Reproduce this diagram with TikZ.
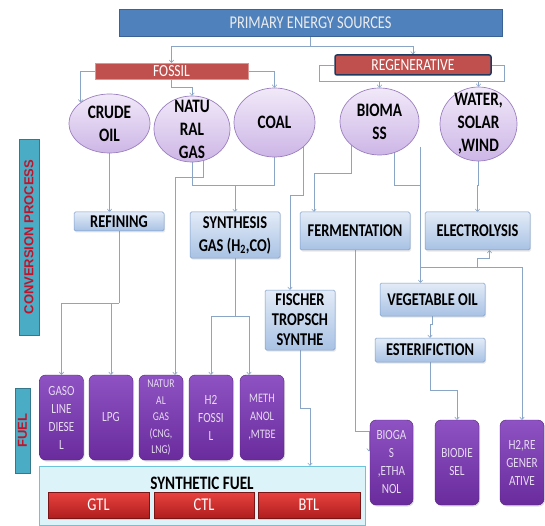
\documentclass[tikz,border=0pt]{standalone}
\usepackage{fontspec}
\setmainfont{Carlito}[FakeStretch=0.8]
\newfontfamily\barfont{Liberation Sans}
\usetikzlibrary{backgrounds,arrows.meta,shapes.geometric,shadows}

\definecolor{wireblue}{HTML}{8AA5C6}
\definecolor{primfill}{HTML}{4F81BD}
\definecolor{primedge}{HTML}{3A6296}
\definecolor{redfill}{HTML}{C0504D}
\definecolor{navyedge}{HTML}{1F3A60}
\definecolor{lilactop}{HTML}{F1E9F9}
\definecolor{lilacbot}{HTML}{CDB6E6}
\definecolor{lilacedge}{HTML}{9A7FBF}
\definecolor{proctop}{HTML}{E3EBF7}
\definecolor{procbot}{HTML}{A8C2E4}
\definecolor{procedge}{HTML}{7A9CCB}
\definecolor{fueltop}{HTML}{8E52C2}
\definecolor{fuelbot}{HTML}{6A2C9C}
\definecolor{fueltext}{HTML}{E6DCF0}
\definecolor{synfill}{HTML}{DDF3FA}
\definecolor{synedge}{HTML}{6CC3DB}
\definecolor{rubytop}{HTML}{E8423F}
\definecolor{rubybot}{HTML}{B01E1E}
\definecolor{tealfill}{HTML}{4BACC6}
\definecolor{barred}{HTML}{C0142B}

\begin{document}
\begin{tikzpicture}[x=1pt,y=-1pt,
    conn/.style={draw=wireblue,line width=.6pt,-{To[length=3pt,width=5pt]}},
    wireline/.style={draw=wireblue,line width=.6pt},
    srcnode/.style={ellipse,draw=lilacedge,line width=.7pt,top color=lilactop,
        bottom color=lilacbot,inner sep=0pt},
    srctext/.style={align=center,font=\fontsize{19}{23}\selectfont\bfseries},
    procbox/.style={rectangle,rounded corners=1.5pt,draw=procedge,line width=.5pt,
        top color=proctop,bottom color=procbot,inner sep=0pt,align=center,
        font=\fontsize{18}{23}\selectfont\bfseries,
        drop shadow={opacity=.2,shadow xshift=1pt,shadow yshift=-1.5pt}},
    fuelbox/.style={rectangle,rounded corners=6pt,top color=fueltop,bottom color=fuelbot,
        draw=fuelbot!80!black,line width=.4pt,minimum width=44pt,minimum height=85pt,
        inner sep=0pt,align=center,text=fueltext,font=\fontsize{14}{18}\selectfont,
        drop shadow={opacity=.25,shadow xshift=1pt,shadow yshift=-1.5pt}},
    redbar/.style={rectangle,top color=rubytop,bottom color=rubybot,draw=rubybot!70!black,
        line width=.4pt,minimum width=101pt,minimum height=26pt,inner sep=0pt,
        text=white,font=\fontsize{18}{18}\selectfont,
        drop shadow={opacity=.25,shadow xshift=1pt,shadow yshift=-1.5pt}},
    sidebar/.style={rectangle,fill=tealfill,draw=tealfill!70!black,line width=.4pt,
        inner sep=0pt,text=barred,font=\barfont\bfseries\fontsize{13}{16}\selectfont}
    ]
    \useasboundingbox (0,0) rectangle (545,526);

    %%top
    \node[rectangle,fill=primfill,draw=primedge,line width=.6pt,minimum width=383pt,
        minimum height=27pt,inner sep=0pt,text=white!92!black,
        font=\fontsize{18}{18}\selectfont] (prim) at (310.5,22.5) {PRIMARY ENERGY SOURCES};
    \node[rectangle,fill=redfill,draw=redfill!60!white,line width=.4pt,minimum width=153pt,
        minimum height=16pt,inner sep=0pt,text=white,
        font=\fontsize{17}{17}\selectfont] (fossil) at (171.5,71) {FOSSIL};
    \node[rectangle,rounded corners=2pt,fill=redfill,draw=navyedge,line width=1.5pt,
        minimum width=156pt,minimum height=20pt,inner sep=0pt,text=white,
        font=\fontsize{17}{17}\selectfont] (regen) at (413,65) {REGENERATIVE};

    %%sources
    \node[srcnode,minimum width=81pt,minimum height=59pt,
        label={[srctext]center:{CRUDE\\OIL}}] (crude) at (109.5,123.5) {};
    \node[srcnode,minimum width=76pt,minimum height=66pt,
        label={[srctext]center:{NATU\\RAL\\GAS}}] (natgas) at (192,129) {};
    \node[srcnode,minimum width=81pt,minimum height=69pt,
        label={[srctext]center:{COAL}}] (coal) at (274.5,122.5) {};
    \node[srcnode,minimum width=79pt,minimum height=67pt,
        label={[srctext]center:{BIOMA\\SS}}] (biomass) at (379.5,121.5) {};
    \node[srcnode,minimum width=77pt,minimum height=74pt,
        label={[srctext]center:{WATER,\\SOLAR\\,WIND}}] (water) at (478.5,124) {};

    %%side bars
    \node[sidebar,rotate=90,minimum width=196pt,minimum height=20pt] (convbar) at (29,237)
        {CONVERSION PROCESS};
    \node[sidebar,rotate=90,minimum width=85pt,minimum height=15pt] (fuelbar) at (22.5,430.5)
        {FUEL};

    %%conversion
    \node[procbox,minimum width=90pt,minimum height=19pt] (refin) at (119,221.5) {REFINING};
    \node[procbox,minimum width=90pt,minimum height=46pt] (syngas) at (235,235)
        {SYNTHESIS\\GAS (H\textsubscript{2},CO)};
    \node[procbox,minimum width=110pt,minimum height=38pt] (ferm) at (355,231) {FERMENTATION};
    \node[procbox,minimum width=105pt,minimum height=38pt] (elec) at (477.5,231) {ELECTROLYSIS};
    \node[procbox,minimum width=70pt,minimum height=60pt,
        font=\fontsize{18}{20}\selectfont\bfseries] (fischer) at (300,320)
        {FISCHER\\TROPSCH\\SYNTHE};
    \node[procbox,minimum width=105pt,minimum height=33pt] (vegoil) at (432.5,299.5) {VEGETABLE OIL};
    \node[procbox,minimum width=110pt,minimum height=24pt] (ester) at (430,350) {ESTERIFICTION};

    %%fuels
    \node[fuelbox] (gaso) at (61.5,417.5) {GASO\\LINE\\DIESE\\L};
    \node[fuelbox] (lpg) at (111,417.5) {LPG};
    \node[fuelbox,font=\fontsize{12}{16.5}\selectfont] (ngfuel) at (161,417.5)
        {NATUR\\AL\\GAS\\(CNG,\\LNG)};
    \node[fuelbox] (h2fos) at (211,417.5) {H2\\FOSSI\\L};
    \node[fuelbox,font=\fontsize{13}{18}\selectfont] (meth) at (262,417.5) {METH\\ANOL\\,MTBE};
    \node[fuelbox,minimum width=43pt] (biogas) at (391.5,462.5) {BIOGA\\S\\,ETHA\\NOL};
    \node[fuelbox] (biodsl) at (457,462.5) {BIODIE\\SEL};
    \node[fuelbox] (h2reg) at (522,462.5) {H2,RE\\GENER\\ATIVE};

    %%synthetic fuel
    \node[rectangle,fill=synfill,draw=synedge,line width=.6pt,minimum width=326pt,
        minimum height=59pt,inner sep=0pt] (synfuel) at (202,495.5) {};
    \node[font=\fontsize{19}{19}\selectfont\bfseries,inner sep=0pt] (synlabel) at (202,483)
        {SYNTHETIC FUEL};
    \node[redbar] (gtl) at (98.5,505) {GTL};
    \node[redbar,minimum width=100pt] (ctl) at (204,505) {CTL};
    \node[redbar,minimum width=102pt] (btl) at (309,505) {BTL};

    \begin{scope}[on background layer]
        %%top links
        \draw[wireline] (prim.south) -- ++(0,10) coordinate (pj);
        \draw[conn] (pj) -| (fossil.north);
        \draw[conn] (pj) -| (regen.north);
        \draw[conn] (fossil.west) -| (crude.north west);
        \draw[conn] (fossil.east) -| (coal.north);
        \draw[conn] (fossil.south) -- ++(0,8) -| (natgas.north);
        \draw[wireline] (regen.west) -- ++(-15,0) |- ++(185,16) |- (regen.east);
        \path (regen.south) ++(0,6) coordinate (rb);
        \draw[conn] (rb -| biomass.north) -- (biomass.north);
        \draw[conn] (rb -| water.north) -- (water.north);

        %%to conversion
        \draw[conn] (crude.south) -- (crude.south |- refin.north);
        \draw[wireline] (natgas.south) -- ++(0,23) coordinate (sj) -| (coal.south);
        \draw[conn] (sj -| syngas.north) -- (syngas.north);
        \draw[conn] (natgas.-70) -- ++(0,17) -| ([xshift=14pt]ngfuel.north);
        \draw[conn] (coal.south east) -- ++(0,48) -| ([xshift=-10pt]fischer.north);
        \draw[conn] (biomass.south west) -- ++(0,28) -| ([xshift=-41pt]ferm.north);
        \draw[conn] (biomass.-65) -- ++(0,32) -| ([xshift=-12pt]vegoil.north);
        \draw[wireline] ([xshift=-12pt]vegoil.north) ++(0,-136) -- ++(0,40);
        \draw[conn] (water.south) -- ++(0,24) -| (elec.north);

        %%to fuels
        \draw[wireline] (refin.south) -- ++(0,72) coordinate (rj);
        \draw[conn] (rj) -| (gaso.north);
        \draw[conn] (rj -| lpg.north) -- (lpg.north);
        \draw[wireline] (syngas.south) -- ++(0,58) coordinate (gj);
        \draw[conn] (gj) -| (h2fos.north);
        \draw[conn] (gj) -| ([xshift=-13pt]meth.north);
        \draw[conn] (fischer.south) -- ++(0,58) -| ([xshift=108pt]synfuel.north);
        \draw[conn] (ferm.south) -- ++(0,181) -| ++(14,20);
        \draw[conn] (vegoil.south) -- ++(0,8) -| (ester.north);
        \draw[conn] (ester.south) -- ++(0,28) -| (biodsl.north);
        \path ([xshift=-12pt]vegoil.north) ++(0,-15) coordinate (vj);
        \draw[conn] (vj) -| (h2reg.north);
        \draw[conn] (elec.south) ++(0,18) -- ++(0,-10) -| ([xshift=12pt]elec.south);
    \end{scope}
\end{tikzpicture}
\end{document}
